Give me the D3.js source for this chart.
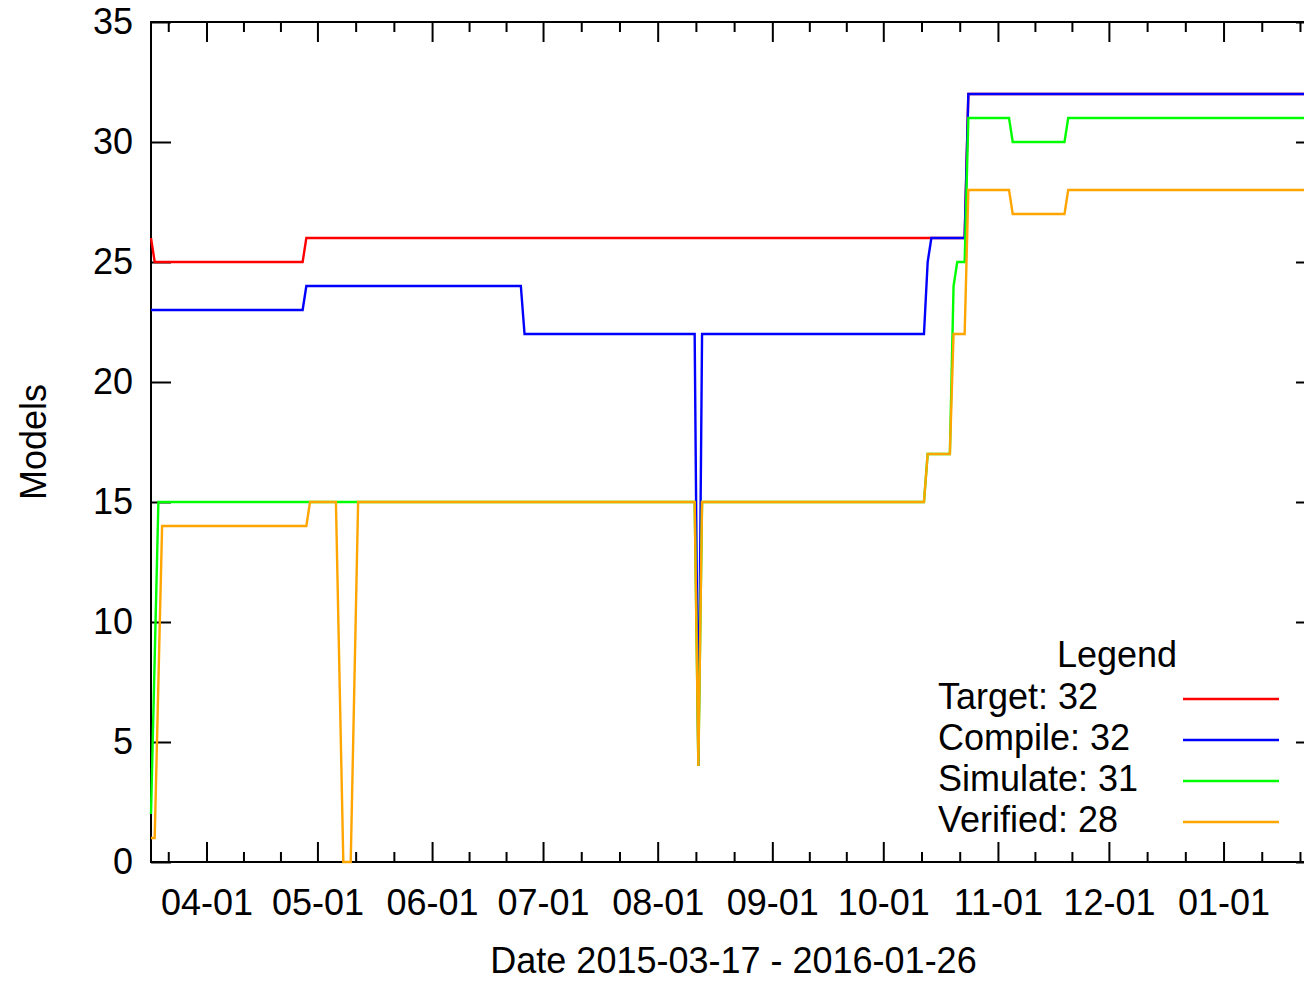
<!DOCTYPE html>
<html>
<head>
<meta charset="utf-8">
<script src="https://cdn.jsdelivr.net/npm/d3@7"></script>
<style>
  body { margin: 0; background: #fff; }
  text { font-family: "Liberation Sans", Arial, sans-serif; font-size: 36px; fill: #000; }
</style>
</head>
<body>
<svg width="1304" height="981"></svg>
<script>
// values, one point per change of level
const seriesNames = ['Target', 'Compile', 'Simulate', 'Verified'];

const targetDates = ['2015-03-17', '2015-03-18', '2015-04-27', '2015-04-28', '2015-10-23', '2015-10-24', '2016-01-26'];
const targetValues = [26, 25, 25, 26, 26, 32, 32];

const compileDates = ['2015-03-17', '2015-04-27', '2015-04-28', '2015-06-25', '2015-06-26', '2015-08-11', '2015-08-12',
  '2015-08-13', '2015-10-12', '2015-10-13', '2015-10-14', '2015-10-23', '2015-10-24', '2016-01-26'];
const compileValues = [23, 23, 24, 24, 22, 22, 4, 22, 22, 25, 26, 26, 32, 32];

const simulateDates = ['2015-03-17', '2015-03-19', '2015-08-11', '2015-08-12', '2015-08-13', '2015-10-12', '2015-10-13',
  '2015-10-19', '2015-10-20', '2015-10-21', '2015-10-23', '2015-10-24', '2015-11-04', '2015-11-05', '2015-11-19',
  '2015-11-20', '2016-01-26'];
const simulateValues = [2, 15, 15, 4, 15, 15, 17, 17, 24, 25, 25, 31, 31, 30, 30, 31, 31];

const verifiedDates = ['2015-03-17', '2015-03-18', '2015-03-20', '2015-04-28', '2015-04-29', '2015-05-06', '2015-05-08',
  '2015-05-10', '2015-05-12', '2015-08-11', '2015-08-12', '2015-08-13', '2015-10-12', '2015-10-13', '2015-10-19',
  '2015-10-20', '2015-10-23', '2015-10-24', '2015-11-04', '2015-11-05', '2015-11-19', '2015-11-20', '2016-01-26'];
const verifiedValues = [1, 1, 14, 14, 15, 15, 0, 0, 15, 15, 4, 15, 15, 17, 17, 22, 22, 28, 28, 27, 27, 28, 28];

const xStart = '2015-03-17';
const xEnd = '2016-01-26';
const yTicks = [0, 5, 10, 15, 20, 25, 30, 35];

const svg = d3.select('svg');
const width = +svg.attr('width');
const height = +svg.attr('height');
const parse = d3.timeParse('%Y-%m-%d');

const series = [
  [targetDates, targetValues],
  [compileDates, compileValues],
  [simulateDates, simulateValues],
  [verifiedDates, verifiedValues]
].map(([dates, values], i) => ({
  name: seriesNames[i],
  points: dates.map((d, j) => ({ date: parse(d), value: values[j] }))
}));

const render = () => {
  const margin = { top: 22, left: 151, bottom: 119 };
  const plotRight = 1316; // the frame runs past the right edge of the picture
  const innerWidth = plotRight - margin.left;
  const innerHeight = height - margin.top - margin.bottom;

  const color = d3.scaleOrdinal()
    .domain(seriesNames)
    .range(['#ff0000', '#0000ff', '#00ff00', '#ffa500']);

  const xScale = d3.scaleTime()
    .domain([parse(xStart), parse(xEnd)])
    .range([0, innerWidth]);
  const yScale = d3.scaleLinear()
    .domain([0, 35])
    .range([innerHeight, 0]);

  const root = svg.append('g')
    .attr('transform', `translate(${margin.left}, ${margin.top})`);

  // month ticks, minor ticks split each month in three
  const months = d3.timeMonth.range(d3.timeMonth.floor(parse(xStart)), d3.timeMonth.offset(parse(xEnd), 1));
  const majorTicks = months.filter(m => m >= parse(xStart) && m <= parse(xEnd));
  const minorTicks = [];
  months.forEach(m => {
    const next = d3.timeMonth.offset(m, 1);
    [1, 2].forEach(k => {
      const t = new Date(+m + (next - m) * k / 3);
      if (t >= parse(xStart) && t <= parse(xEnd)) minorTicks.push(t);
    });
  });

  const styleAxis = g => {
    g.select('.domain').remove();
    g.selectAll('line').attr('stroke', '#000').attr('stroke-width', 2);
    g.selectAll('text').attr('font-size', null).attr('font-family', null);
  };

  root.append('g')
    .attr('transform', `translate(0, ${innerHeight})`)
    .call(d3.axisBottom(xScale).tickValues(majorTicks).tickSize(-20).tickPadding(27)
      .tickFormat(d3.timeFormat('%m-%d')))
    .call(styleAxis);
  root.append('g')
    .attr('transform', `translate(0, ${innerHeight})`)
    .call(d3.axisBottom(xScale).tickValues(minorTicks).tickSize(-10).tickFormat(''))
    .call(styleAxis);
  root.append('g')
    .call(d3.axisTop(xScale).tickValues(majorTicks).tickSize(-20).tickFormat(''))
    .call(styleAxis);
  root.append('g')
    .call(d3.axisTop(xScale).tickValues(minorTicks).tickSize(-10).tickFormat(''))
    .call(styleAxis);

  root.append('g')
    .call(d3.axisLeft(yScale).tickValues(yTicks).tickSize(-20).tickPadding(18))
    .call(styleAxis);
  root.append('g')
    .attr('transform', `translate(${innerWidth}, 0)`)
    .call(d3.axisRight(yScale).tickValues(yTicks).tickSize(-20).tickFormat(''))
    .call(styleAxis);

  root.append('rect')
    .attr('width', innerWidth)
    .attr('height', innerHeight)
    .attr('fill', 'none')
    .attr('stroke', '#000')
    .attr('stroke-width', 2);

  root.append('text')
    .attr('text-anchor', 'middle')
    .attr('x', innerWidth / 2)
    .attr('y', innerHeight + 111)
    .text(`Date ${xStart} - ${xEnd}`);

  root.append('text')
    .attr('text-anchor', 'middle')
    .attr('transform', `translate(${-105}, ${innerHeight / 2}) rotate(-90)`)
    .text('Models');

  const line = d3.line()
    .x(d => xScale(d.date))
    .y(d => yScale(d.value));

  root.selectAll('path.series')
    .data(series)
    .enter()
    .append('path')
      .attr('class', 'series')
      .attr('fill', 'none')
      .attr('stroke', d => color(d.name))
      .attr('stroke-width', 2.4)
      .attr('stroke-linejoin', 'miter')
      .attr('d', d => line(d.points));

  // legend
  const legend = svg.append('g');
  legend.append('text')
    .attr('text-anchor', 'middle')
    .attr('x', 1117)
    .attr('y', 667)
    .text('Legend');

  const rows = legend.selectAll('g.row')
    .data(series)
    .enter()
    .append('g')
      .attr('class', 'row')
      .attr('transform', (d, i) => `translate(0, ${i * 41})`);
  rows.append('text')
    .attr('x', 938)
    .attr('y', 709)
    .text(d => `${d.name}: ${d.points[d.points.length - 1].value}`);
  rows.append('line')
    .attr('x1', 1183)
    .attr('x2', 1279)
    .attr('y1', 699)
    .attr('y2', 699)
    .attr('stroke', d => color(d.name))
    .attr('stroke-width', 2.4);
};

render();
</script>
</body>
</html>
